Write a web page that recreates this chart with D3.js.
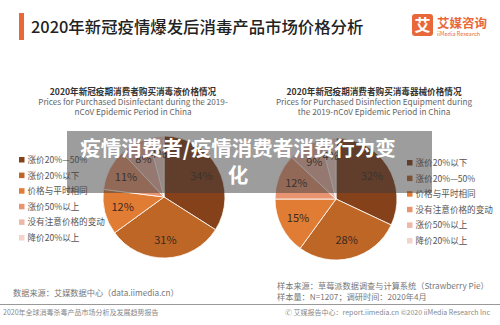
<!DOCTYPE html>
<html>
<head>
<meta charset="utf-8">
<script src="https://cdn.jsdelivr.net/npm/d3@7"></script>
<style>
  body { margin: 0; background: #fff; }
  svg { display: block; font-family: "Noto Sans CJK SC", "Noto Sans", sans-serif; }
</style>
</head>
<body>
<div class="chart"></div>
<script>
// data
var leftCategories = ["涨价20%—50%", "涨价20%以下", "价格与平时相同", "涨价50%以上", "没有注意价格的变动", "降价20%以上"];
var leftValues = [34, 31, 12, 11, 8, 4];
var rightCategories = ["涨价20%以下", "涨价20%—50%", "价格与平时相同", "没有注意价格的变动", "涨价50%以上", "降价20%以上"];
var rightValues = [32, 28, 15, 12, 9, 4];
var palette = ["#84411a", "#bd6626", "#e17c34", "#e99470", "#efb7a6", "#f4d3ca"];

var width = 500, height = 325;
var svg = d3.select(".chart").append("svg")
  .attr("width", width)
  .attr("height", height);

// header
svg.append("rect").attr("x", 19).attr("y", 13).attr("width", 5).attr("height", 27).attr("fill", "#e8683a");
svg.append("text").attr("x", 31).attr("y", 32.5)
  .attr("font-size", 16.4).attr("fill", "#222").attr("font-weight", 500)
  .text("2020年新冠疫情爆发后消毒产品市场价格分析");

svg.append("rect").attr("x", 412).attr("y", 14).attr("width", 21).attr("height", 22).attr("rx", 3).attr("fill", "#e8683a");
svg.append("text").attr("x", 422.5).attr("y", 31).attr("text-anchor", "middle")
  .attr("font-size", 16).attr("font-weight", 700).attr("fill", "#fff").text("艾");
svg.append("text").attr("x", 437).attr("y", 28)
  .attr("font-size", 12.5).attr("font-weight", 700).attr("fill", "#e8683a").text("艾媒咨询");
svg.append("text").attr("x", 437).attr("y", 35.5)
  .attr("font-size", 5.5).attr("fill", "#e8683a").text("iiMedia Research");

// sub titles
function subTitle(cx, lines) {
  svg.append("text").attr("x", cx).attr("y", 95).attr("text-anchor", "middle")
    .attr("font-size", 8.6).attr("font-weight", 700).attr("fill", "#333").text(lines[0]);
  svg.append("text").attr("x", cx).attr("y", 105).attr("text-anchor", "middle")
    .attr("font-size", 8.2).attr("fill", "#666").text(lines[1]);
  svg.append("text").attr("x", cx).attr("y", 115).attr("text-anchor", "middle")
    .attr("font-size", 8.2).attr("fill", "#666").text(lines[2]);
}
subTitle(133, ["2020年新冠疫期消费者购买消毒液价格情况",
  "Prices for Purchased Disinfectant during the 2019-",
  "nCoV Epidemic Period in China"]);
subTitle(374, ["2020年新冠疫期消费者购买消毒器械价格情况",
  "Prices for Purchased Disinfection Equipment during",
  "the 2019-nCoV Epidemic Period in China"]);

var pie = d3.pie().sort(null).value(function(d) { return d; });
var radius = 61;
var arc = d3.arc().innerRadius(0).outerRadius(radius);
var labelArc = d3.arc().innerRadius(radius * 0.7).outerRadius(radius * 0.7);

function drawPie(cx, cy, values) {
  var g = svg.append("g").attr("transform", "translate(" + cx + "," + cy + ")");
  var arcs = pie(values);
  g.selectAll("path").data(arcs).enter().append("path")
    .attr("d", arc)
    .attr("fill", function(d, i) { return palette[i]; })
    .attr("stroke", "#fff")
    .attr("stroke-width", 0.8);
  g.selectAll("text").data(arcs).enter().append("text")
    .attr("transform", function(d) { return "translate(" + labelArc.centroid(d) + ")"; })
    .attr("text-anchor", "middle")
    .attr("dy", "0.35em")
    .attr("font-size", 11)
    .attr("fill", "#3a2a22")
    .text(function(d) { return d.data + "%"; });
}
drawPie(164, 197, leftValues);
drawPie(336, 199, rightValues);

function drawLegend(x, y0, cats) {
  var step = 15.6;
  var g = svg.append("g");
  cats.forEach(function(c, i) {
    g.append("rect").attr("x", x).attr("y", y0 + i * step - 3)
      .attr("width", 5.5).attr("height", 5.5).attr("fill", palette[i]);
    g.append("text").attr("x", x + 8.5).attr("y", y0 + i * step + 3)
      .attr("font-size", 8.6).attr("fill", "#555").text(c);
  });
}
drawLegend(19, 160, leftCategories);
drawLegend(407, 163, rightCategories);

// footer
svg.append("text").attr("x", 13).attr("y", 296).attr("font-size", 8.2).attr("fill", "#777")
  .text("数据来源：艾媒数据中心（data.iimedia.cn）");
svg.append("text").attr("x", 277).attr("y", 289).attr("font-size", 8.2).attr("fill", "#777")
  .text("样本来源：草莓派数据调查与计算系统（Strawberry Pie）");
svg.append("text").attr("x", 277).attr("y", 299.5).attr("font-size", 8.2).attr("fill", "#777")
  .text("样本量：N=1207；调研时间：2020年4月");
svg.append("line").attr("x1", 0).attr("x2", 500).attr("y1", 304.5).attr("y2", 304.5)
  .attr("stroke", "#999").attr("stroke-width", 1);
svg.append("text").attr("x", 3).attr("y", 314.5).attr("font-size", 7).attr("fill", "#888")
  .text("2020年全球消毒杀毒产品市场分析及发展趋势报告");
svg.append("text").attr("x", 285).attr("y", 314.5).attr("font-size", 7).attr("fill", "#888")
  .text("🄫 艾媒报告中心：report.iimedia.cn  ©2020  iiMedia Research Inc");

// grey caption band laid over the page
svg.append("rect").attr("x", 67).attr("y", 131).attr("width", 365).attr("height", 62)
  .attr("fill", "rgba(60,60,60,0.5)");
var cap = svg.append("text").attr("text-anchor", "middle")
  .attr("font-size", 20.5).attr("font-weight", 700).attr("fill", "#fff");
cap.append("tspan").attr("x", 238).attr("y", 156).text("疫情消费者/疫情消费者消费行为变");
cap.append("tspan").attr("x", 238).attr("y", 183).text("化");
</script>
</body>
</html>
